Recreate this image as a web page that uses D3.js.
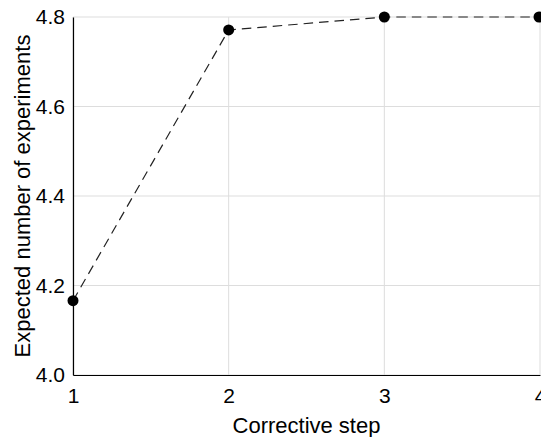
<!DOCTYPE html>
<html><head><meta charset="utf-8">
<script src="https://cdn.jsdelivr.net/npm/d3@7"></script>
<style>body{margin:0;background:#fff;}svg{display:block;font-family:"Liberation Sans",Arial,sans-serif;}</style>
</head><body>
<script>
const steps = [1, 2, 3, 4];
const expected = [4.166, 4.771, 4.8, 4.8];
const xTicks = [1, 2, 3, 4];
const yTicks = [4.0, 4.2, 4.4, 4.6, 4.8];
const xTitle = "Corrective step";
const yTitle = "Expected number of experiments";

const W = 541, H = 437;
const m = {left: 73, right: 1, top: 17, bottom: 62};
const svg = d3.select("body").append("svg").attr("width", W).attr("height", H);
const x = d3.scaleLinear().domain([1, 4]).range([m.left, W - m.right]);
const y = d3.scaleLinear().domain([4.0, 4.8]).range([H - m.bottom, m.top]);

const g = svg.append("g");
// grid
g.selectAll(".gx").data(xTicks).join("line")
  .attr("x1", d => x(d)).attr("x2", d => x(d))
  .attr("y1", y(4.0)).attr("y2", y(4.8))
  .attr("stroke", "#dddddd").attr("stroke-width", 1);
g.selectAll(".gy").data(yTicks).join("line")
  .attr("x1", x(1)).attr("x2", x(4))
  .attr("y1", d => y(d)).attr("y2", d => y(d))
  .attr("stroke", "#dddddd").attr("stroke-width", 1);

// axes
const xAxis = d3.axisBottom(x).tickValues(xTicks).tickSize(0).tickPadding(13).tickFormat(d3.format("d"));
const yAxis = d3.axisLeft(y).tickValues(yTicks).tickSize(0).tickPadding(8).tickFormat(d3.format(".1f"));
const gx = svg.append("g").attr("transform", `translate(0,${y(4.0)})`).call(xAxis);
const gy = svg.append("g").attr("transform", `translate(${x(1)},0)`).call(yAxis);
[gx, gy].forEach(a => {
  a.select(".domain").attr("stroke", "#000").attr("stroke-width", 1.2);
  a.selectAll("text").attr("font-size", 21).attr("fill", "#000").attr("font-family", "Liberation Sans, Arial, sans-serif");
});

// line
const pts = steps.map((s, i) => [s, expected[i]]);
svg.append("path").datum(pts)
  .attr("d", d3.line().x(d => x(d[0])).y(d => y(d[1])))
  .attr("fill", "none").attr("stroke", "#222").attr("stroke-width", 1.2)
  .attr("stroke-dasharray", "9.5,6");
svg.selectAll(".pt").data(pts).join("circle")
  .attr("cx", d => x(d[0]) - (d[0] === 4 ? 1 : 0)).attr("cy", d => y(d[1])).attr("r", 5.5).attr("fill", "#000");

// titles
svg.append("text").attr("x", (x(1) + x(4)) / 2).attr("y", 433)
  .attr("text-anchor", "middle").attr("font-size", 22).text(xTitle);
svg.append("text").attr("transform", `translate(30,${(y(4.0) + y(4.8)) / 2}) rotate(-90)`)
  .attr("text-anchor", "middle").attr("font-size", 22).text(yTitle);
</script>
</body></html>
